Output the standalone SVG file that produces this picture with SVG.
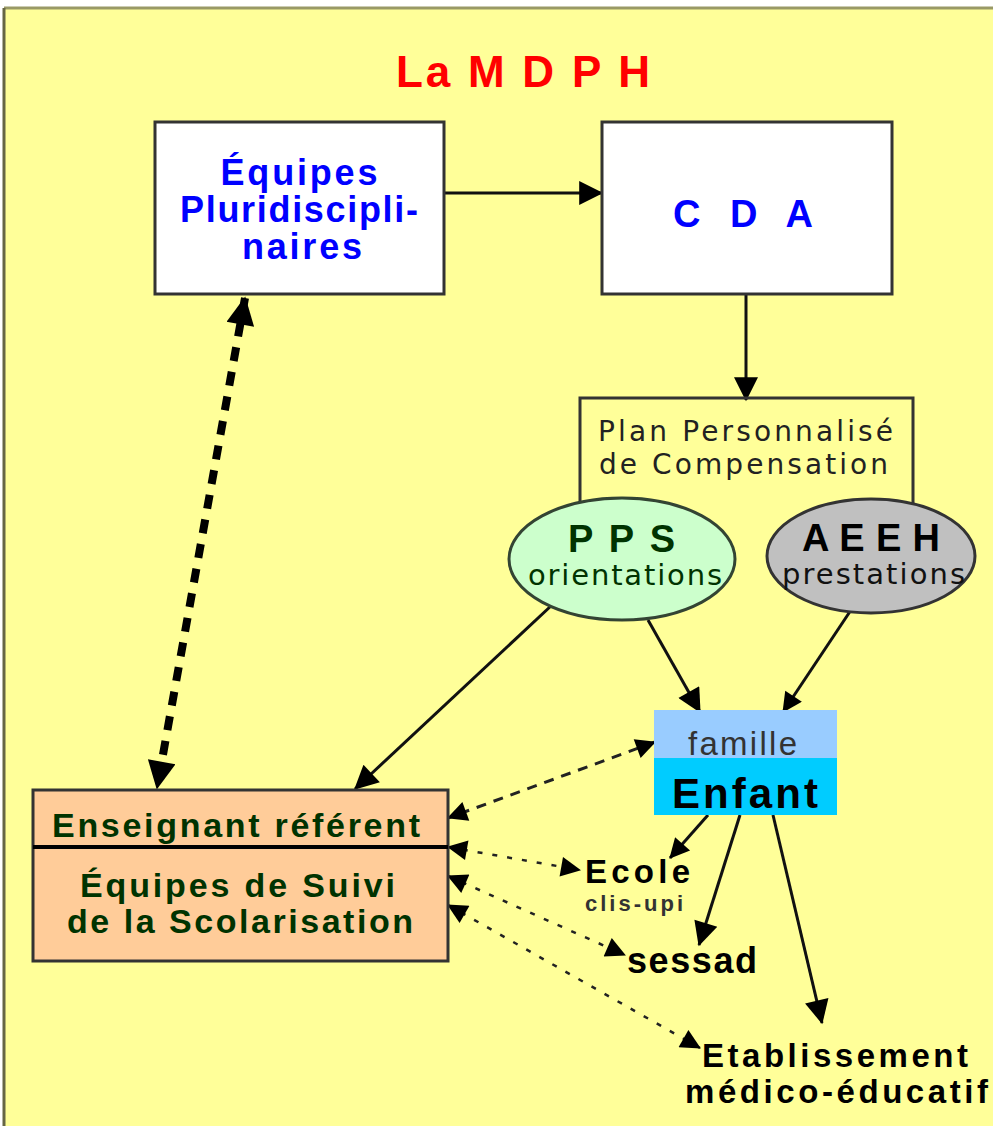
<svg xmlns="http://www.w3.org/2000/svg" width="993" height="1126" viewBox="0 0 993 1126">
<style>
.box{fill:#FFFFFF;stroke:#333333;stroke-width:3}
.blue{font-family:"Liberation Sans",Arial,sans-serif;font-weight:bold;fill:#0000FF}
.verd{font-family:"DejaVu Sans",Verdana,sans-serif}
.ar{font-family:"Liberation Sans",Arial,sans-serif}
.b{font-weight:bold}
.green{fill:#003300}
.ln{fill:none;stroke:#111111;stroke-width:3}
.dash{fill:none;stroke:#222222;stroke-width:2.5;stroke-dasharray:5 10}
</style>
<defs>
<marker id="ah" viewBox="0 0 10 10" refX="9.5" refY="5" markerWidth="30" markerHeight="24" markerUnits="userSpaceOnUse" orient="auto-start-reverse"><path d="M0,0 L10,5 L0,10 z" fill="#000"/></marker>
<marker id="as" viewBox="0 0 10 10" refX="9.5" refY="5" markerWidth="26" markerHeight="20" markerUnits="userSpaceOnUse" orient="auto-start-reverse"><path d="M0,0 L10,5 L0,10 z" fill="#000"/></marker>
<marker id="ab" viewBox="0 0 10 10" refX="9.5" refY="5" markerWidth="32" markerHeight="28" markerUnits="userSpaceOnUse" orient="auto-start-reverse"><path d="M0,0 L10,5 L0,10 z" fill="#000"/></marker>
</defs>
<rect x="0" y="0" width="993" height="1126" fill="#FFFFFF"/>
<rect x="4" y="8" width="995" height="1125" fill="#FFFF99"/>
<line x1="4" y1="8" x2="993" y2="8" stroke="#999966" stroke-width="3"/>
<line x1="4" y1="8" x2="4" y2="1126" stroke="#666644" stroke-width="3"/>
<text x="396" y="87" class="ar b" font-size="44" fill="#FF0000" textLength="254" lengthAdjust="spacing">La M D P H</text>

<g id="connectors">
<line class="ln" x1="444" y1="193" x2="602" y2="193" marker-end="url(#ah)"/>
<line class="ln" x1="746" y1="294" x2="746" y2="400" marker-end="url(#ah)"/>
<line x1="245" y1="298" x2="157" y2="788" fill="none" stroke="#000" stroke-width="8" stroke-dasharray="14 11" marker-start="url(#ab)" marker-end="url(#ab)"/>
<line class="ln" x1="648" y1="620" x2="700" y2="712" stroke-width="4" marker-end="url(#ah)"/>
<line class="ln" x1="853" y1="607" x2="783" y2="712" stroke-width="2.5" marker-end="url(#as)"/>
<line class="ln" x1="552" y1="605" x2="355" y2="789" marker-end="url(#ah)"/>
<line x1="655" y1="742" x2="448" y2="818" fill="none" stroke="#222" stroke-width="3" stroke-dasharray="10 8" marker-start="url(#as)" marker-end="url(#as)"/>
<line class="ln" x1="708" y1="815" x2="670" y2="858" stroke-width="2.5" marker-end="url(#as)"/>
<line class="ln" x1="740" y1="815" x2="699" y2="945" marker-end="url(#ah)"/>
<line class="ln" x1="773" y1="815" x2="822" y2="1023" marker-end="url(#ah)"/>
<line class="dash" x1="448" y1="847" x2="580" y2="870" marker-start="url(#as)" marker-end="url(#as)"/>
<line class="dash" x1="448" y1="876" x2="625" y2="955" marker-start="url(#as)" marker-end="url(#as)"/>
<line class="dash" x1="448" y1="905" x2="700" y2="1048" marker-start="url(#as)" marker-end="url(#as)"/>
</g>

<g id="equipes">
<rect class="box" x="155" y="122" width="289" height="172"/>
<text class="blue" font-size="36" x="299" y="185" text-anchor="middle" textLength="157" lengthAdjust="spacing">Équipes</text>
<text class="blue" font-size="36" x="299" y="222" text-anchor="middle" textLength="238" lengthAdjust="spacing">Pluridiscipli-</text>
<text class="blue" font-size="36" x="302" y="259" text-anchor="middle" textLength="120" lengthAdjust="spacing">naires</text>
</g>

<g id="cda">
<rect class="box" x="602" y="122" width="290" height="172"/>
<text class="blue" font-size="38" x="673" y="227" textLength="140" lengthAdjust="spacing">C D A</text>
</g>

<g id="plan">
<path d="M580,505 V398 H913 V505" fill="none" stroke="#333333" stroke-width="3"/>
<text class="verd" font-size="28" fill="#222222" x="598" y="441" textLength="295" lengthAdjust="spacing">Plan Personnalisé</text>
<text class="verd" font-size="28" fill="#222222" x="599" y="474" textLength="289" lengthAdjust="spacing">de Compensation</text>
</g>

<g id="pps">
<ellipse cx="622" cy="559" rx="113" ry="61" fill="#CCFFCC" stroke="#334433" stroke-width="3"/>
<text class="ar b green" font-size="38" x="568" y="552" textLength="107" lengthAdjust="spacing">P P S</text>
<text class="verd green" font-size="29" x="528" y="585" textLength="194" lengthAdjust="spacing">orientations</text>
</g>

<g id="aeeh">
<ellipse cx="871" cy="556" rx="104" ry="57" fill="#C0C0C0" stroke="#333333" stroke-width="3"/>
<text class="ar b" font-size="38" fill="#000" x="802" y="551" textLength="138" lengthAdjust="spacing">A E E H</text>
<text class="verd" font-size="29" fill="#111" x="782" y="584" textLength="183" lengthAdjust="spacing">prestations</text>
</g>

<g id="enfant">
<rect x="654" y="710" width="183" height="48" fill="#99CCFF"/>
<rect x="654" y="758" width="183" height="57" fill="#00CCFF"/>
<text class="ar" font-size="33" fill="#333333" x="688" y="755" textLength="109" lengthAdjust="spacing">famille</text>
<text class="ar b" font-size="42" fill="#000" x="672" y="808" textLength="146" lengthAdjust="spacing">Enfant</text>
</g>

<g id="enseignant">
<rect x="33" y="790" width="415" height="171" fill="#FFCC99" stroke="#333333" stroke-width="3"/>
<line x1="33" y1="847" x2="448" y2="847" stroke="#000" stroke-width="4"/>
<text class="ar b green" font-size="34" x="52" y="837" textLength="368" lengthAdjust="spacing">Enseignant référent</text>
<text class="ar b green" font-size="34" x="80" y="897" textLength="315" lengthAdjust="spacing">Équipes de Suivi</text>
<text class="ar b green" font-size="34" x="67" y="933" textLength="346" lengthAdjust="spacing">de la Scolarisation</text>
</g>

<g id="ecole">
<text class="ar b" font-size="33" fill="#000" x="585" y="883" textLength="105" lengthAdjust="spacing">Ecole</text>
<text class="ar b" font-size="22" fill="#333333" x="585" y="911" textLength="98" lengthAdjust="spacing">clis-upi</text>
</g>

<g id="sessad">
<text class="ar b" font-size="36" fill="#000" x="627" y="973" textLength="130" lengthAdjust="spacing">sessad</text>
</g>

<g id="etablissement">
<text class="ar b" font-size="33" fill="#000" x="702" y="1067" textLength="266" lengthAdjust="spacing">Etablissement</text>
<text class="ar b" font-size="33" fill="#000" x="685" y="1103" textLength="303" lengthAdjust="spacing">médico-éducatif</text>
</g>
</svg>
